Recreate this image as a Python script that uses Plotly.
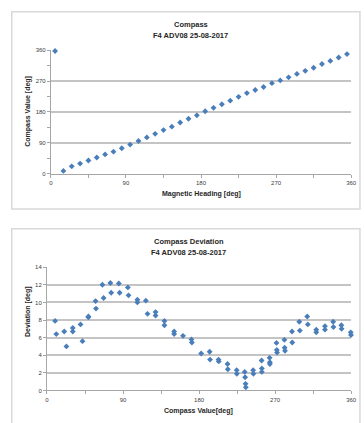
import plotly.graph_objects as go

W, H = 364, 423

# Top chart: Compass value vs magnetic heading
heading = [5, 15, 25, 35, 45, 55, 65, 75, 85, 95, 105, 115, 125, 135, 145, 155, 165, 175,
           185, 195, 205, 215, 225, 235, 245, 255, 265, 275, 285, 295, 305, 315, 325, 335, 345, 355]
compass_value = [358, 7.7, 21, 29, 38, 47, 56, 64, 74, 84.5, 95, 105.6, 116, 127, 137, 149, 160, 170,
                 182, 192, 202.6, 213, 224, 235, 244, 253, 264, 272, 281, 291, 300, 309, 320, 329, 339, 349]

# Bottom chart: deviation vs compass value
dev_x = [9.6, 11, 20.4, 23, 30.5, 30.5, 39.7, 42, 49, 49, 57.5, 58, 65.6, 67, 75, 76, 85, 86,
         95.7, 96.5, 107, 107, 117, 119, 128.5, 128.5, 139, 139, 150.5, 150.5, 161, 171, 171.5,
         182.5, 192.5, 193, 203, 203.3, 213.7, 214, 224.5, 224.7, 234, 234.5, 235, 235.3, 244, 244.3,
         254, 254.3, 254.3, 263.5, 263.8, 263.8, 271.6, 272, 272.3, 281, 281.3, 281.7, 290, 290.3,
         298.6, 299.3, 308, 308.7, 318.7, 318.7, 329, 329, 338.7, 339, 348.4, 348.7, 359.5, 359.8]
dev_y = [7.9, 6.4, 6.7, 5.0, 7.1, 6.7, 7.5, 5.6, 8.4, 8.3, 10.15, 9.3, 12.0, 10.5, 12.2, 11.1, 12.15, 11.1,
         11.7, 10.8, 10.3, 10.0, 10.2, 8.7, 8.9, 8.5, 7.9, 7.4, 6.7, 6.4, 6.2, 5.8, 5.45,
         4.2, 4.4, 3.5, 3.5, 3.3, 3.0, 2.4, 2.3, 1.9, 2.1, 1.5, 0.75, 0.35, 2.3, 1.9,
         3.4, 2.5, 2.1, 3.7, 3.2, 3.0, 5.4, 4.6, 4.3, 5.75, 4.85, 4.5, 6.7, 5.45,
         7.8, 6.8, 8.4, 7.5, 6.9, 6.6, 7.3, 6.9, 7.8, 7.2, 7.4, 7.0, 6.6, 6.3]

deg_ticks = [0, 90, 180, 270, 360]
dev_ticks = [0, 2, 4, 6, 8, 10, 12, 14]

FONT = "Liberation Sans Narrow, Liberation Sans, Arial"
BLUE = "#4A7EBB"
GRID = "#C4C4C4"
TXT = "#404040"


def py(px):
    return 1 - px / H


def pxx(px):
    return px / W


fig = go.Figure()
fig.add_trace(go.Scatter(x=heading, y=compass_value, mode="markers", xaxis="x", yaxis="y",
                         marker=dict(symbol="diamond", size=4.5, color=BLUE), showlegend=False,
                         cliponaxis=False))
fig.add_trace(go.Scatter(x=dev_x, y=dev_y, mode="markers", xaxis="x2", yaxis="y2",
                         marker=dict(symbol="diamond", size=4.5, color=BLUE), showlegend=False,
                         cliponaxis=False))

axis_common = dict(showline=True, linecolor="#A6A6A6", linewidth=1, ticks="outside", ticklen=3,
                   tickcolor="#A6A6A6", tickfont=dict(family=FONT, size=6, color=TXT),
                   zeroline=False, fixedrange=True)

fig.update_layout(
    width=W, height=H, margin=dict(l=0, r=0, t=0, b=0),
    paper_bgcolor="white", plot_bgcolor="white",
    xaxis=dict(domain=[pxx(50), pxx(357)], range=[0, 360], tickvals=deg_ticks, showgrid=False,
               minor=dict(dtick=45, tick0=0, ticks="outside", ticklen=3, tickcolor="#A6A6A6"),
               anchor="y", **axis_common),
    yaxis=dict(domain=[py(173), py(48)], range=[0, 360], tickvals=deg_ticks, showgrid=True,
               gridcolor=GRID, gridwidth=1.5,
               minor=dict(dtick=45, tick0=0, ticks="outside", ticklen=3, tickcolor="#A6A6A6"),
               anchor="x", **axis_common),
    xaxis2=dict(domain=[pxx(46), pxx(357)], range=[0, 360], tickvals=deg_ticks, showgrid=False,
                minor=dict(dtick=45, tick0=0, ticks="outside", ticklen=3, tickcolor="#A6A6A6"),
                anchor="y2", **axis_common),
    yaxis2=dict(domain=[py(393), py(268)], range=[0, 14], tickvals=dev_ticks, showgrid=True,
                gridcolor=GRID, gridwidth=1.5, anchor="x2", **axis_common),
)

shapes = [
    dict(type="rect", xref="paper", yref="paper", x0=pxx(10), x1=pxx(366), y0=py(209), y1=py(9),
         line=dict(color="#D9D9D9", width=1.5), fillcolor="rgba(0,0,0,0)"),
    dict(type="rect", xref="paper", yref="paper", x0=pxx(10), x1=pxx(366), y0=py(430), y1=py(229),
         line=dict(color="#D9D9D9", width=1.5), fillcolor="rgba(0,0,0,0)"),
]
fig.update_layout(shapes=shapes)

ann = []


def text(x, y, s, size, bold=False, angle=0):
    ann.append(dict(x=pxx(x), y=py(y), xref="paper", yref="paper", text=(f"<b>{s}</b>" if bold else s),
                    showarrow=False, textangle=angle, xanchor="center", yanchor="middle",
                    font=dict(family=FONT, size=size, color="#262626")))


text(193, 22, "Compass", 7.5, True)
text(193, 33, "F4 ADV08 25-08-2017", 7.5, True)
text(204, 194, "Magnetic Heading [deg]", 7, True)
text(27, 110, "Compass Value [deg]", 7, True, -90)

text(191, 242, "Compass Deviation", 7.5, True)
text(191, 253, "F4 ADV08 25-08-2017", 7.5, True)
text(201, 414, "Compass Value[deg]", 7, True)
text(26, 313, "Deviation [deg]", 7, True, -90)

fig.update_layout(annotations=ann)

fig.write_html("out.html", config={"displayModeBar": False},
               post_script="document.body.style.margin='0';document.body.style.overflow='hidden';")
